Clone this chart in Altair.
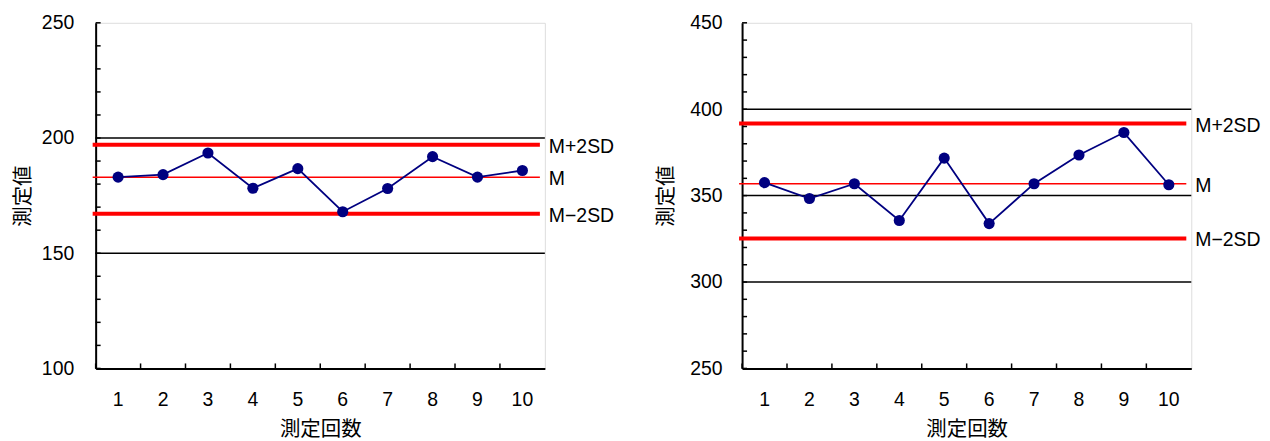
import altair as alt
import pandas as pd

# ---- data ----
runs = [1, 2, 3, 4, 5, 6, 7, 8, 9, 10]

left_values = [183.0, 184.1, 193.5, 178.2, 186.7, 168.0, 178.1, 191.9, 183.0, 185.9]
left_limits = [197.1, 183.0, 167.1]
left_domain = [100, 250]
left_major = [100, 150, 200, 250]
left_grid = [150, 200]
left_minor = list(range(100, 251, 10))

right_values = [357.5, 348.3, 356.9, 335.6, 371.7, 333.8, 356.9, 373.5, 386.5, 356.3]
right_limits = [391.7, 356.9, 325.2]
right_domain = [250, 450]
right_major = [250, 300, 350, 400, 450]
right_grid = [300, 350, 400]
right_minor = list(range(250, 451, 10))

limit_labels = ["M+2SD", "M", "M\u22122SD"]
x_title = "測定回数"
y_title = "測定値"

W, H = 451, 347
NAVY = "#000080"
RED = "#FF0000"
NUMFONT = "Liberation Sans"
CJK = "Noto Sans CJK JP"
LBL = 19.5
TTL = 20.5


def panel(values, limits, domain, major, grid, minor, lab_pad, title_pad):
    df = pd.DataFrame({"n": runs, "v": values})
    xscale = alt.Scale(paddingInner=0, paddingOuter=0)
    yscale = alt.Scale(domain=domain, nice=False, zero=False)

    xaxis = alt.Axis(labelAngle=0, ticks=False, grid=False, domainColor="black",
                     domainWidth=2, labelPadding=22, titlePadding=11,
                     labelFontSize=LBL, labelFont=NUMFONT, labelColor="black",
                     labelFontWeight="normal",
                     titleFontSize=TTL, titleFont=CJK, titleFontWeight="normal",
                     titleColor="black")
    yaxis = alt.Axis(values=major, ticks=False, grid=False, domainColor="black",
                     domainWidth=2, labelPadding=lab_pad, titlePadding=title_pad,
                     labelFontSize=LBL, labelFont=NUMFONT, labelColor="black",
                     titleFontSize=TTL, titleFont=CJK, titleFontWeight="normal",
                     titleColor="black")

    X = alt.X("n:O", title=x_title, scale=xscale, axis=xaxis)
    Xb = alt.X("n:O", title=x_title, scale=xscale, axis=xaxis, bandPosition=0)
    Y = alt.Y("v:Q", title=y_title, scale=yscale, axis=yaxis)

    grid_df = pd.DataFrame({"v": grid})
    gridlines = alt.Chart(grid_df).mark_rule(color="black", strokeWidth=1.5).encode(
        y=Y, x=alt.value(0), x2=alt.value(W))

    lim_df = pd.DataFrame({"v": limits, "label": limit_labels})
    limit_rules = alt.Chart(lim_df).mark_rule(color=RED).encode(
        y=Y, x=alt.value(-3), x2=alt.value(W - 5),
        strokeWidth=alt.condition(alt.datum.label == "M", alt.value(1.5), alt.value(4)))

    limit_text = alt.Chart(lim_df).mark_text(
        align="left", baseline="middle", fontSize=LBL, font=NUMFONT, color="black", dy=2
    ).encode(y=Y, x=alt.value(W + 4), text="label:N")

    line = alt.Chart(df).mark_line(color=NAVY, strokeWidth=1.8).encode(x=X, y=Y)
    pts = alt.Chart(df).mark_circle(color=NAVY, size=125, opacity=1).encode(x=X, y=Y)

    minor_df = pd.DataFrame({"v": minor})
    yticks = alt.Chart(minor_df).mark_rule(color="black", strokeWidth=1.5).encode(
        y=Y, x=alt.value(0), x2=alt.value(5))

    xt_df = pd.DataFrame({"n": runs})
    xticks = alt.Chart(xt_df).mark_rule(color="black", strokeWidth=1.5).encode(
        x=Xb, y=alt.value(H), y2=alt.value(H - 5))

    return alt.layer(gridlines, limit_rules, line, pts, yticks, xticks, limit_text).properties(
        width=W, height=H)


left = panel(left_values, left_limits, left_domain, left_major, left_grid, left_minor, 22, 8)
right = panel(right_values, right_limits, right_domain, right_major, right_grid, right_minor, 20, 13)

chart = alt.hconcat(left, right, spacing=40).properties(
    padding={"left": 4, "top": 3, "right": 0, "bottom": 0}
).configure_view(stroke="#707070", strokeWidth=1.5).configure(background="white")

chart.save("out.html", embed_options={"renderer": "svg", "actions": False})
